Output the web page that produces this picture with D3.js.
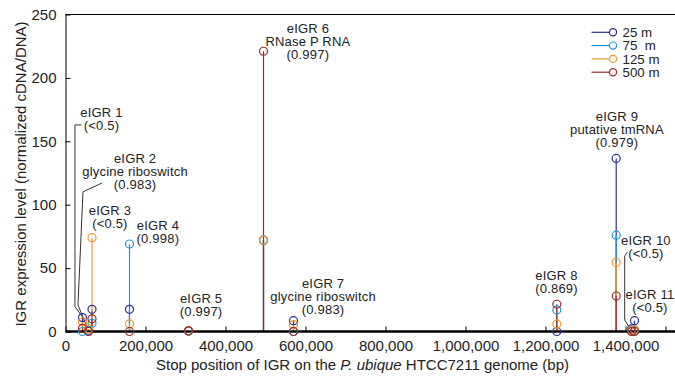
<!DOCTYPE html>
<html>
<head>
<meta charset="utf-8">
<title>eIGR expression</title>
<script src="https://cdnjs.cloudflare.com/ajax/libs/d3/7.8.5/d3.min.js"></script>
<style>
    body { margin: 0; background: #fff; }
    svg { font-family: "Liberation Sans", Arial, Helvetica, sans-serif; }
</style>
</head>
<body>
<script>
// depths and their colours
const series = ["25 m", "75  m", "125 m", "500 m"];
const colors = ["#2b2f8f", "#1e9bd7", "#f5962a", "#9b2a26"];

// stop position of each IGR (bp) and expression per depth
const igrPos = [42500, 57500, 66250, 160000, 307500, 495000, 570000, 1228250, 1376750, 1415000, 1422500];
const val25  = [11, 0.5, 17.5, 17.5, 0.3, 72, 8.5, 0, 136.5, 2, 8.5];
const val75  = [0, 1, 6.5, 69, 0.3, 72, 0, 17, 76, 1, 0.5];
const val125 = [7.5, 2, 74, 6, 0.5, 72, 5.5, 6, 54.5, 0.5, 1.5];
const val500 = [2.5, 0, 10, 0, 0.5, 221, 0, 21.5, 28, 0, 0];
const values = [val25, val75, val125, val500];

// annotation text, anchored in data units (bp, expression) at first baseline
const labelText = [
    ["eIGR 1", "(<0.5)"],
    ["eIGR 2", "glycine riboswitch", "(0.983)"],
    ["eIGR 3", "(<0.5)"],
    ["eIGR 4", "(0.998)"],
    ["eIGR 5", "(0.997)"],
    ["eIGR 6", "RNase P RNA", "(0.997)"],
    ["eIGR 7", "glycine riboswitch", "(0.983)"],
    ["eIGR 8", "(0.869)"],
    ["eIGR 9", "putative tmRNA", "(0.979)"],
    ["eIGR 10", "(<0.5)"],
    ["eIGR 11", "(<0.5)"]
];
const labelX = [90000, 174000, 111000, 231000, 339000, 606000, 644000, 1227500, 1378500, 1451000, 1461000];
const labelY = [169, 132.5, 92, 80, 22.5, 235.4, 34.3, 40.6, 166, 68.2, 25.6];

// leader lines for the crowded labels (bp, expression)
const leaders = [
    [[40000, 162.9], [23700, 162.9], [23700, 19.7], [43700, 11]],
    [[91200, 117.1], [43700, 110.2], [31200, 20.9], [53700, 3.5]],
    [[1405000, 62.7], [1398000, 59.5], [1398000, 9.1], [1415000, 0.4]]
];

const xTicks = [0, 200000, 400000, 600000, 800000, 1000000, 1200000, 1400000, 1500000];
const yTicks = [0, 50, 100, 150, 200, 250];

const W = 675, H = 378;
const svg = d3.select("body").append("svg")
    .attr("width", W).attr("height", H);

const x = d3.scaleLinear().domain([0, 1522500]).range([65.5, 674.5]);
const y = d3.scaleLinear().domain([0, 250]).range([331.5, 14.5]);

// top frame
svg.append("line")
    .attr("x1", x(0)).attr("x2", W)
    .attr("y1", y(250)).attr("y2", y(250))
    .attr("stroke", "#000").attr("stroke-width", 1);

// y axis, ticks pointing inwards
const yAxis = svg.append("g")
    .attr("transform", `translate(${x(0)},0)`)
    .call(d3.axisLeft(y).tickValues(yTicks).tickSizeInner(-5).tickSizeOuter(0).tickPadding(9));
yAxis.select(".domain").attr("stroke", "#000").attr("stroke-width", 1);
yAxis.selectAll("text").attr("font-size", 15).attr("fill", "#222")
    .attr("font-family", "Liberation Sans, Arial, sans-serif");

// x axis, ticks pointing inwards
const xAxis = svg.append("g")
    .attr("transform", `translate(0,${y(0)})`)
    .call(d3.axisBottom(x).tickValues(xTicks).tickSizeInner(-5).tickSizeOuter(0).tickPadding(9)
        .tickFormat(d => d === 1500000 ? "" : d3.format(",")(d)));
xAxis.select(".domain").remove();
xAxis.selectAll("text").attr("font-size", 15).attr("fill", "#222")
    .attr("font-family", "Liberation Sans, Arial, sans-serif");

// leader lines
const lineGen = d3.line().x(d => x(d[0])).y(d => y(d[1]));
svg.append("g").selectAll("path").data(leaders).enter()
    .append("path")
    .attr("d", lineGen)
    .attr("fill", "none")
    .attr("stroke", "#333")
    .attr("stroke-width", 1);

// stems, one per depth, shallow first so deeper ones sit on top
const stems = svg.append("g");
values.forEach((vals, s) => {
    stems.selectAll(null).data(vals).enter()
        .append("line")
        .attr("x1", (d, i) => x(igrPos[i])).attr("x2", (d, i) => x(igrPos[i]))
        .attr("y1", y(0)).attr("y2", d => y(d))
        .attr("stroke", colors[s]).attr("stroke-width", 1.2);
});

// thick baseline
svg.append("line")
    .attr("x1", x(0)).attr("x2", W)
    .attr("y1", y(0)).attr("y2", y(0))
    .attr("stroke", "#000").attr("stroke-width", 2.5);

// open circles
const dots = svg.append("g");
values.forEach((vals, s) => {
    dots.selectAll(null).data(vals).enter()
        .append("circle")
        .attr("cx", (d, i) => x(igrPos[i]))
        .attr("cy", d => y(d))
        .attr("r", 4)
        .attr("fill", "none")
        .attr("stroke", colors[s]).attr("stroke-width", 1.2);
});

// annotations
const lab = svg.append("g").attr("font-size", 13).attr("letter-spacing", 0.2)
    .attr("fill", "#222").attr("text-anchor", "middle");
labelText.forEach((lines, i) => {
    const t = lab.append("text")
        .attr("x", x(labelX[i])).attr("y", y(labelY[i]));
    lines.forEach((ln, k) => {
        t.append("tspan")
            .attr("x", x(labelX[i]))
            .attr("dy", k === 0 ? 0 : 13)
            .text(ln);
    });
});

// legend
const leg = svg.append("g").attr("transform", "translate(591.5,32.3)");
series.forEach((name, i) => {
    const row = leg.append("g").attr("transform", `translate(0,${i * 13.3})`);
    row.append("line").attr("x1", 0).attr("x2", 18)
        .attr("stroke", colors[i]).attr("stroke-width", 1.2);
    row.append("circle").attr("cx", 21.5).attr("r", 3.6)
        .attr("fill", "none").attr("stroke", colors[i]).attr("stroke-width", 1.2);
    row.append("text").attr("x", 31).attr("y", 4.6)
        .attr("font-size", 13.3).attr("fill", "#222")
        .style("white-space", "pre")
        .text(name);
});

// axis titles
svg.append("text")
    .attr("transform", "translate(25.5,174) rotate(-90)")
    .attr("text-anchor", "middle")
    .attr("font-size", 15).attr("fill", "#222")
    .text("IGR expression level (normalized cDNA/DNA)");

const xt = svg.append("text")
    .attr("x", 362.5).attr("y", 370)
    .attr("text-anchor", "middle")
    .attr("font-size", 15).attr("fill", "#222");
xt.append("tspan").text("Stop position of IGR on the ");
xt.append("tspan").attr("font-style", "italic").text("P. ubique");
xt.append("tspan").text(" HTCC7211 genome (bp)");
</script>
</body>
</html>
